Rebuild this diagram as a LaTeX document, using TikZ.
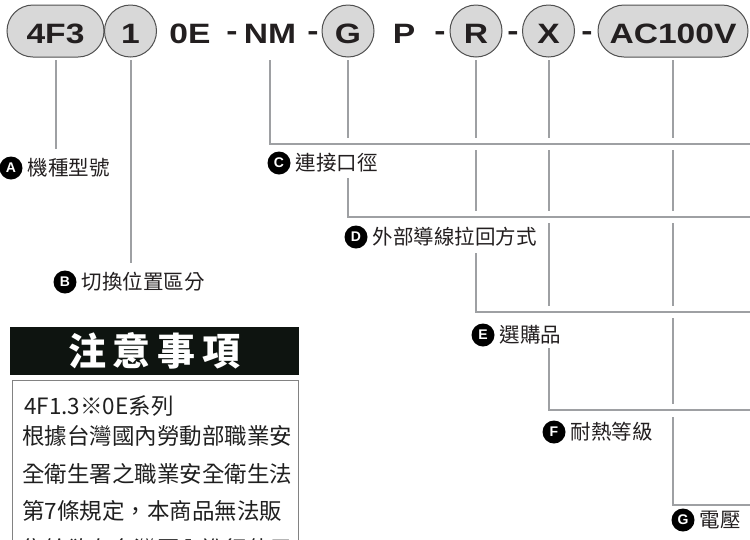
\documentclass[tikz,border=0pt]{standalone}
\usepackage{fontspec}
\setmainfont{Liberation Sans}
\newfontfamily\partfont[FakeStretch=1.2]{Liberation Sans}
\newfontfamily\cjk{Noto Sans CJK TC}
\usetikzlibrary{positioning}
\definecolor{pillgray}{RGB}{216,216,216}
\definecolor{rimgray}{RGB}{80,80,80}
\definecolor{leadgray}{RGB}{158,160,163}
\definecolor{inkdark}{RGB}{35,31,32}
\definecolor{headblack}{RGB}{14,20,16}
\definecolor{boxgray}{RGB}{130,130,130}
\tikzset{
  partxt/.style  = {font=\partfont\bfseries\fontsize{28}{28}\selectfont, text=inkdark,
                    text height=24pt, text depth=0pt, inner sep=0pt},
  hy/.style      = {partxt, yshift=3pt},
  pill/.style    = {partxt, draw=rimgray, line width=1pt, fill=pillgray,
                    rounded corners=26pt, minimum height=52pt},
  ring/.style    = {partxt, circle, draw=rimgray, line width=1pt, fill=pillgray,
                    minimum size=52pt},
  lead/.style    = {draw=leadgray, line width=2pt},
  badge/.style   = {circle, fill=black, text=white, inner sep=0pt, minimum size=23pt,
                    font=\bfseries\fontsize{14}{14}\selectfont},
  lab/.style     = {font=\cjk\fontsize{20.5}{20.5}\selectfont, text=inkdark,
                    inner sep=0pt, right=5pt of #1},
  notetxt/.style = {font=\cjk\fontsize{22.5}{22.5}\selectfont, text=black!88,
                    anchor=west, inner sep=0pt},
}

\begin{document}
\begin{tikzpicture}[x=1pt, y=-1pt]
  \useasboundingbox (0,0) rectangle (750,539);

  % model code
  \node[pill, minimum width=97pt]  (p4f3) at (55.5,31)  {4F3};
  \node[ring]                      (p1)   at (130.5,31) {1};
  \node[partxt]                    (p0e)  at (190,31)   {0E};
  \node[hy]                        (h1)   at (232,31)   {-};
  \node[partxt]                    (pnm)  at (270,31)   {NM};
  \node[hy]                        (h2)   at (313,31)   {-};
  \node[ring]                      (pg)   at (348,31)   {G};
  \node[partxt]                    (pp)   at (404,31)   {P};
  \node[hy]                        (h3)   at (440,31)   {-};
  \node[ring]                      (pr)   at (476,31)   {R};
  \node[hy]                        (h4)   at (513,31)   {-};
  \node[ring]                      (px)   at (548.5,31) {X};
  \node[hy]                        (h5)   at (587,31)   {-};
  \node[pill, minimum width=150pt] (pac)  at (673,31)   {AC100V};

  % ends of the branches, past the right edge
  \coordinate (endC) at (752,144);
  \coordinate (endD) at (752,217);
  \coordinate (endE) at (752,312);
  \coordinate (endF) at (752,410);
  \coordinate (endG) at (752,505);

  \draw[lead] (p4f3 |- 0,60) -- (p4f3 |- 0,149);
  \draw[lead] (p1 |- 0,60) -- (p1 |- 0,263);
  \draw[lead] (pnm |- 0,60) |- (endC);
  \draw[lead] (pg |- 0,178) |- (endD);
  \draw[lead] (pr |- 0,253) |- (endE);
  \draw[lead] (px |- 0,348) |- (endF);
  \draw[lead] (pac |- 0,417) |- (endG);
  \foreach \n/\ya/\yb in {pg/60/138, pr/60/138, pr/150/211,
                          px/60/138, px/150/211, px/223/306,
                          pac/60/138, pac/150/211, pac/223/306, pac/318/404}
    \draw[lead] (\n |- 0,\ya) -- (\n |- 0,\yb);

  % labels
  \node[badge] (ta) at (11,168)  {A};
  \node[lab=ta] (la) {機種型號};
  \node[badge] (tb) at (65,282)  {B};
  \node[lab=tb] (lb) {切換位置區分};
  \node[badge] (tc) at (279,163) {C};
  \node[lab=tc] (lc) {連接口徑};
  \node[badge] (td) at (356,237) {D};
  \node[lab=td] (ld) {外部導線拉回方式};
  \node[badge] (te) at (483,335) {E};
  \node[lab=te] (le) {選購品};
  \node[badge] (tf) at (554,432) {F};
  \node[lab=tf] (lf) {耐熱等級};
  \node[badge] (tg) at (683,520) {G};
  \node[lab=tg] (lg) {電壓};

  % note box
  \node[fill=headblack, minimum width=289pt, minimum height=48pt, inner sep=0pt,
        text=white, font=\cjk\bfseries\fontsize{38}{38}\selectfont]
    (hdr) at (154.5,351) {注\hspace{7pt}意\hspace{7pt}事\hspace{7pt}項};
  \draw[boxgray, line width=1pt] (12,380) rectangle (298,580);
  \node[notetxt] (n0) at (24,406) {4F1.3※0E系列};
  \foreach \i/\t in {1/根據台灣國內勞動部職業安, 2/全衛生署之職業安全衛生法,
                     3/第7條規定，本商品無法販, 4/售給欲在台灣國內進行使用}
    \node[notetxt] (n\i) at (22,398.5+37.5*\i) {\t};
\end{tikzpicture}
\end{document}
